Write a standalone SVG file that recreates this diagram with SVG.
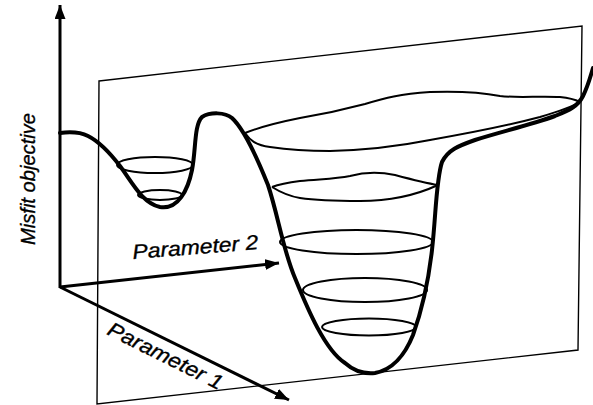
<svg xmlns="http://www.w3.org/2000/svg" width="593" height="405" viewBox="0 0 593 405">
<style>
.plane{fill:none;stroke:#000;stroke-width:1.4}
.axis{fill:none;stroke:#000;stroke-width:3}
.contour{fill:none;stroke:#000;stroke-width:2}
.surface{fill:none;stroke:#000;stroke-width:4;stroke-linecap:round;stroke-linejoin:round}
.label{font-family:"Liberation Sans",Arial,sans-serif;font-style:italic;font-size:20.5px;fill:#000;stroke:#000;stroke-width:0.35}
</style>
<defs>
<marker id="ah" markerUnits="userSpaceOnUse" markerWidth="15" markerHeight="12" refX="14" refY="5.5" orient="auto">
<path d="M0,0 L14,5.5 L0,11 z" fill="#000"/>
</marker>
</defs>
<rect width="593" height="405" fill="#fff"/>
<g id="plane">
<polygon class="plane" points="99,81 582,26 578,350 97,404"/>
</g>
<g id="connectors">
<line class="axis" x1="60" y1="288" x2="60" y2="5" marker-end="url(#ah)"/>
<line class="axis" x1="60" y1="287" x2="279" y2="263" marker-end="url(#ah)"/>
<line class="axis" x1="60" y1="287" x2="289" y2="400" marker-end="url(#ah)"/>
</g>
<g id="contours">
<ellipse class="contour" cx="155" cy="165" rx="38" ry="8"/>
<ellipse class="contour" cx="160" cy="195" rx="22" ry="5"/>
<path class="contour" d="M245,133 C265,125 285,121 300,118 C330,113 350,108 365,104 C385,98 400,94 430,92 C460,91 480,92 500,96 C515,98 540,96 560,97 C570,98 576,100 580,102"/>
<path class="contour" d="M245,133 C250,140 255,145 270,147 C290,150 310,151 330,151 C370,150 400,146 430,140 C470,133 510,125 540,117 C560,111 572,107 580,102"/>
<path class="contour" d="M272,187 C280,184 285,183 300,181 C320,179 335,179 350,176 C365,172 380,172 395,175 C410,179 425,183 438,185"/>
<path class="contour" d="M272,187 C280,192 288,196 300,198 C320,201 340,201 360,201 C385,201 410,198 438,185"/>
<ellipse class="contour" cx="356.5" cy="242" rx="76.5" ry="12"/>
<ellipse class="contour" cx="365" cy="290" rx="62" ry="12"/>
<ellipse class="contour" cx="369" cy="327" rx="47" ry="8.5"/>
</g>
<g id="surface">
<path class="surface" d="M60,133 C68,132 78,131 88,136 C100,142 110,153 120,166 C132,182 142,203 160,207 C178,210 188,190 192,170 C196,150 194,125 202,117 C210,112 225,112 232,118 C245,130 258,160 268,185 C278,215 283,250 295,278 C308,310 325,350 345,363 C355,372 365,374 375,373 C392,370 405,355 413,335 C422,310 428,285 432,250 C436,215 436,180 442,162 C448,150 458,146 475,140 C500,132 530,125 555,116 C570,110 578,106 583,96 C588,86 590,78 593,68"/>
</g>
<g id="labels">
<text class="label" transform="translate(35,179) rotate(-90)" text-anchor="middle" textLength="132" lengthAdjust="spacingAndGlyphs">Misfit objective</text>
<text class="label" transform="translate(133,259) rotate(-4.5)" textLength="126" lengthAdjust="spacingAndGlyphs">Parameter 2</text>
<text class="label" transform="translate(106,334) rotate(26.5)" textLength="126" lengthAdjust="spacingAndGlyphs">Parameter 1</text>
</g>
</svg>
